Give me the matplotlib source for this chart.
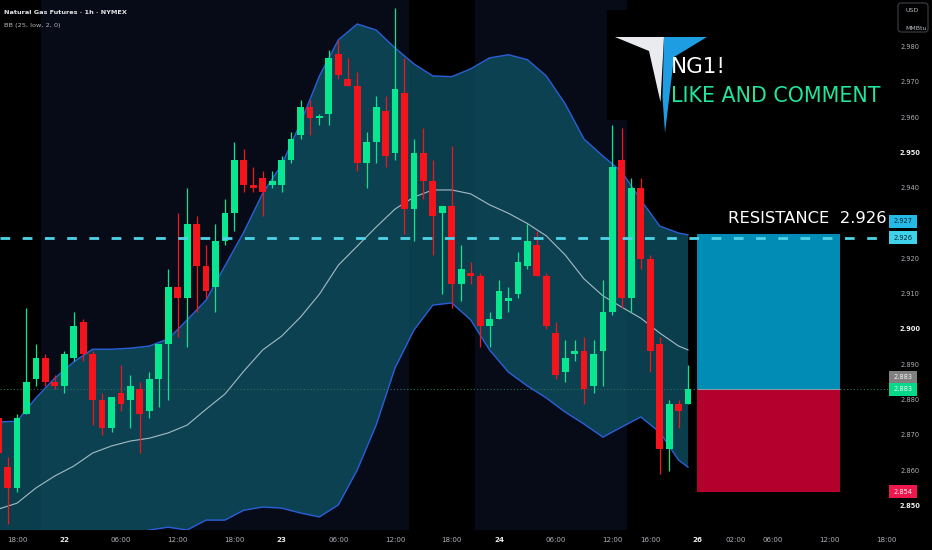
import matplotlib
matplotlib.use("Agg")
import matplotlib.pyplot as plt
from matplotlib import font_manager
from matplotlib.patches import Polygon, Rectangle, FancyBboxPatch
import numpy as np

plt.rcParams['font.family'] = ['DejaVu Sans']

# narrow face for the labels when it is installed, otherwise shrink DejaVu a bit
try:
    font_manager.findfont('Liberation Sans Narrow', fallback_to_default=False)
    NARROW, SHRINK = 'Liberation Sans Narrow', 1.0
except ValueError:
    NARROW, SHRINK = 'DejaVu Sans', 0.86

# NG1! hourly candles
opens = [2.875, 2.861, 2.855, 2.876, 2.886, 2.892, 2.885, 2.884, 2.892, 2.902,
         2.893, 2.880, 2.872, 2.882, 2.880, 2.883, 2.877, 2.886, 2.896, 2.912,
         2.909, 2.930, 2.918, 2.912, 2.925, 2.933, 2.948, 2.941, 2.943, 2.941,
         2.941, 2.948, 2.955, 2.963, 2.960, 2.961, 2.978, 2.971, 2.969, 2.947,
         2.953, 2.962, 2.950, 2.967, 2.934, 2.950, 2.942, 2.933, 2.935, 2.913,
         2.916, 2.915, 2.901, 2.903, 2.908, 2.910, 2.918, 2.924, 2.915, 2.899,
         2.888, 2.893, 2.894, 2.884, 2.894, 2.905, 2.948, 2.909, 2.940, 2.920,
         2.896, 2.866, 2.879, 2.879]
highs = [2.877, 2.864, 2.876, 2.906, 2.896, 2.893, 2.887, 2.894, 2.905, 2.903,
         2.894, 2.882, 2.881, 2.890, 2.887, 2.885, 2.888, 2.896, 2.917, 2.933,
         2.940, 2.932, 2.924, 2.930, 2.937, 2.953, 2.951, 2.946, 2.945, 2.945,
         2.949, 2.956, 2.965, 2.965, 2.961, 2.979, 2.982, 2.977, 2.973, 2.956,
         2.966, 2.966, 2.991, 2.977, 2.954, 2.957, 2.948, 2.935, 2.952, 2.924,
         2.919, 2.916, 2.905, 2.914, 2.912, 2.922, 2.930, 2.928, 2.916, 2.902,
         2.897, 2.897, 2.898, 2.897, 2.914, 2.958, 2.957, 2.943, 2.943, 2.921,
         2.898, 2.880, 2.880, 2.890]
lows = [2.863, 2.845, 2.854, 2.876, 2.884, 2.884, 2.883, 2.882, 2.891, 2.891,
        2.873, 2.870, 2.871, 2.877, 2.872, 2.865, 2.875, 2.878, 2.880, 2.898,
        2.895, 2.905, 2.909, 2.905, 2.924, 2.928, 2.939, 2.939, 2.932, 2.940,
        2.939, 2.947, 2.954, 2.955, 2.958, 2.958, 2.971, 2.969, 2.945, 2.940,
        2.947, 2.946, 2.948, 2.927, 2.925, 2.937, 2.921, 2.910, 2.906, 2.908,
        2.913, 2.895, 2.895, 2.903, 2.905, 2.909, 2.917, 2.915, 2.900, 2.886,
        2.885, 2.891, 2.879, 2.882, 2.884, 2.904, 2.906, 2.905, 2.917, 2.888,
        2.859, 2.860, 2.872, 2.879]
closes = [2.865, 2.855, 2.875, 2.885, 2.892, 2.885, 2.884, 2.893, 2.901, 2.893,
          2.880, 2.872, 2.881, 2.879, 2.884, 2.876, 2.886, 2.896, 2.912, 2.909,
          2.930, 2.918, 2.911, 2.925, 2.933, 2.948, 2.941, 2.940, 2.939, 2.942,
          2.948, 2.954, 2.963, 2.960, 2.960, 2.977, 2.972, 2.969, 2.947, 2.953,
          2.963, 2.949, 2.968, 2.934, 2.950, 2.942, 2.932, 2.935, 2.913, 2.917,
          2.915, 2.901, 2.903, 2.911, 2.909, 2.919, 2.925, 2.915, 2.901, 2.887,
          2.892, 2.894, 2.883, 2.893, 2.905, 2.946, 2.909, 2.940, 2.920, 2.894,
          2.866, 2.879, 2.877, 2.883]

# BB (25, low, 2, 0) read every other bar
band_idx = list(range(0, 73, 2)) + [73]
bb_upper = [2.8738, 2.8740, 2.8806, 2.8862, 2.8908, 2.8944, 2.8944, 2.8947, 2.8953, 2.8973,
            2.9027, 2.9083, 2.9180, 2.9276, 2.9386, 2.9466, 2.9585, 2.9718, 2.9820, 2.9865,
            2.9848, 2.9797, 2.9752, 2.9718, 2.9716, 2.9738, 2.9769, 2.9778, 2.9764, 2.9718,
            2.9639, 2.9539, 2.9491, 2.9446, 2.9367, 2.9293, 2.9273, 2.9268]
bb_basis = [2.8491, 2.8508, 2.8551, 2.8585, 2.8613, 2.8650, 2.8670, 2.8684, 2.8692, 2.8707,
            2.8729, 2.8774, 2.8817, 2.8882, 2.8942, 2.8981, 2.9035, 2.9100, 2.9182, 2.9236,
            2.9290, 2.9341, 2.9375, 2.9395, 2.9395, 2.9384, 2.9353, 2.9329, 2.9300, 2.9265,
            2.9211, 2.9143, 2.9095, 2.9063, 2.9032, 2.8990, 2.8953, 2.8942]
bb_lower = [2.8245, 2.8276, 2.8296, 2.8307, 2.8318, 2.8355, 2.8395, 2.8420, 2.8432, 2.8440,
            2.8432, 2.8460, 2.8460, 2.8488, 2.8497, 2.8494, 2.8480, 2.8469, 2.8503, 2.8602,
            2.8729, 2.8891, 2.8998, 2.9069, 2.9075, 2.9027, 2.8942, 2.8879, 2.8840, 2.8806,
            2.8766, 2.8732, 2.8695, 2.8724, 2.8752, 2.8709, 2.8630, 2.8610]

# 2.930 sits under the price tags
price_ticks = [2.85, 2.86, 2.87, 2.88, 2.89, 2.90, 2.91, 2.92, 2.94, 2.95, 2.96, 2.97, 2.98]
time_ticks = [2, 7, 13, 19, 25, 30, 36, 42, 48, 53, 59, 65, 69, 74, 78, 82, 88, 94]
time_labels = ['18:00', '22', '06:00', '12:00', '18:00', '23', '06:00', '12:00', '18:00',
               '24', '06:00', '12:00', '16:00', '26', '02:00', '06:00', '12:00', '18:00']

resistance = 2.926
target = 2.927
entry = 2.883
stop = 2.854

GREEN = '#08e68f'
RED = '#f5141c'

W, H = 932, 550
fig = plt.figure(figsize=(W / 100, H / 100), dpi=100, facecolor='black')
ax = fig.add_axes([0, 20 / H, 888 / W, 530 / H])
ax.set_facecolor('black')
ax.set_xlim(0.2, 94.16)
ax.set_ylim(2.8432, 2.9933)
for s in ax.spines.values():
    s.set_visible(False)
ax.set_xticks([])
ax.set_yticks([])

# session shading
ax.axvspan(4.5, 43.5, color='#070b17', lw=0, zorder=0)
ax.axvspan(50.5, 66.5, color='#070b17', lw=0, zorder=0)

# bollinger bands
ax.fill_between(band_idx, bb_lower, bb_upper, color='#0e5466', alpha=0.75, lw=0, zorder=1)
ax.plot(band_idx, bb_upper, color='#2b5fd9', lw=1, zorder=2)
ax.plot(band_idx, bb_lower, color='#2b5fd9', lw=1, zorder=2)
ax.plot(band_idx, bb_basis, color='#a6bcc4', lw=0.8, zorder=2)

# candles
o = np.array(opens); h = np.array(highs); l = np.array(lows); c = np.array(closes)
x = np.arange(len(o))
col = np.where(c >= o, GREEN, RED)
ax.vlines(x, l, h, colors=col, lw=0.9, zorder=3)
ax.bar(x, np.maximum(np.abs(c - o), 0.0004), bottom=np.minimum(o, c), width=0.72,
       color=col, lw=0, zorder=4)

# long position box
bx0, bx1 = 73.95, 89.1
ax.add_patch(Rectangle((bx0, entry), bx1 - bx0, target - entry, fc='#008cb4', ec='none', zorder=5))
ax.add_patch(Rectangle((bx0, stop), bx1 - bx0, entry - stop, fc='#b4002d', ec='none', zorder=5))
ax.hlines(entry, bx0, bx1, color='#8a9aa3', lw=0.8, zorder=6)

ax.axhline(entry, color='#2f6f55', lw=0.8, ls=(0, (1, 2)), zorder=2)
ax.axhline(resistance, color='#4fd3e6', lw=2, dashes=(3.5, 4.5), zorder=7)

# overlay in pixel units for text, logo and price tags
ov = fig.add_axes([0, 0, 1, 1], zorder=5)
ov.set_xlim(0, W)
ov.set_ylim(H, 0)
ov.axis('off')


def px_x(i):
    return ax.transData.transform((i, 2.9))[0]


def px_y(v):
    return H - ax.transData.transform((1, v))[1]


ov.text(4, 12, 'Natural Gas Futures · 1h · NYMEX', color='#e4e6eb', fontsize=5.4 * SHRINK,
        family=NARROW, fontweight='bold', va='center')
ov.text(4, 25, 'BB (25, low, 2, 0)', color='#b5b8c0', fontsize=5.4 * SHRINK,
        family=NARROW, va='center')

for t, lab in zip(time_ticks, time_labels):
    day = len(lab) == 2
    ov.text(px_x(t), 540, lab, ha='center', va='center', fontsize=6.0 * SHRINK, family=NARROW,
            color='#eeeeee' if day else '#aeb1b8', fontweight='bold' if day else 'normal')

for v in price_ticks:
    major = round(v * 1000) % 50 == 0
    ov.text(910, px_y(v), f'{v:.3f}', ha='center', va='center', fontsize=5.6 * SHRINK,
            family=NARROW, color='#f0f0f0' if major else '#aeb1b8',
            fontweight='bold' if major else 'normal')


def tag(v, dy, fc, tc):
    y = px_y(v) + dy
    ov.add_patch(Rectangle((889, y - 6.5), 28, 13, fc=fc, ec='none'))
    ov.text(903, y, f'{v:.3f}', ha='center', va='center', fontsize=5.6 * SHRINK,
            family=NARROW, color=tc)


tag(target, -13, '#25b9e6', '#0c2433')
tag(resistance, 0, '#3fd2ea', '#0c2433')
tag(entry, -12, '#808080', '#f2f2f2')
tag(entry, 0, '#06d98a', '#f2f2f2')
tag(stop, 0, '#f0174c', '#f2f2f2')

# currency box
ov.add_patch(FancyBboxPatch((898, 3), 30, 29, boxstyle='round,pad=0,rounding_size=3',
                            fc='black', ec='#3d3f45', lw=0.8))
ov.text(905, 11, 'USD', color='#b5b8c0', fontsize=5.2 * SHRINK, family=NARROW, va='center')
ov.text(905, 28, 'MMBtu', color='#b5b8c0', fontsize=5.2 * SHRINK, family=NARROW, va='center')

# logo
ov.add_patch(Rectangle((607, 10), 281, 110, fc='black', ec='none'))
ov.add_patch(Polygon([(615, 37), (664, 37), (660.5, 102), (649, 51)], closed=True,
                     fc='#e9ebef', ec='none'))
ov.add_patch(Polygon([(664, 37), (707, 37), (674, 57), (665, 133), (662.5, 97)], closed=True,
                     fc='#1f9de2', ec='none'))
ov.text(671, 67, 'NG1!', color='white', fontsize=18 * SHRINK, family=NARROW,
        va='center', ha='left')
ov.text(671, 96, 'LIKE AND COMMENT', color='#22e59c', fontsize=17.3 * SHRINK, family=NARROW,
        va='center', ha='left')

ov.text(887, px_y(resistance) - 19, f'RESISTANCE  {resistance:.3f}', color='white',
        fontsize=13.7 * SHRINK, family=NARROW, va='center', ha='right')

fig.savefig('out.png', dpi=100, facecolor='black')
